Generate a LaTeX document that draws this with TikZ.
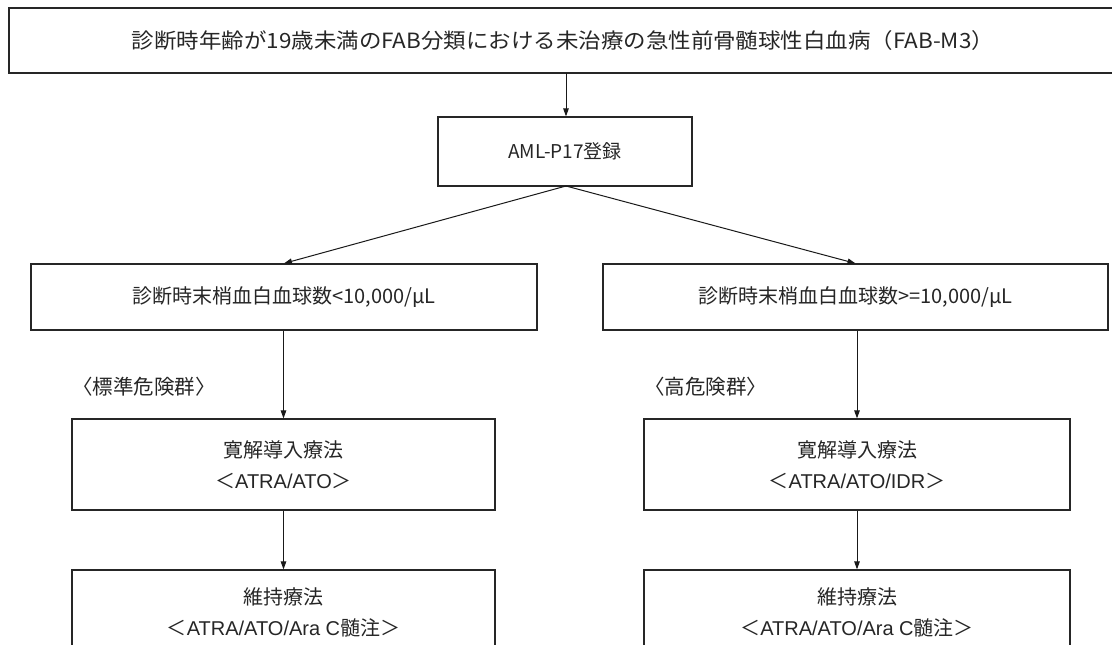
\documentclass[tikz,border=0pt]{standalone}
\usepackage{fontspec}
\setmainfont{Noto Sans CJK JP}
\newfontfamily\arialf{Liberation Sans}
\usetikzlibrary{arrows.meta}
\tikzset{
  box/.style={draw=black!85, line width=1.2pt, inner sep=0pt, align=center, text=black!85},
  conn/.style={draw=black!90, line width=1pt, -{Triangle[length=8pt,width=5.5pt]}},
  grp/.style={inner sep=0pt, anchor=west, text=black!85, font=\fontsize{20.5}{24}\selectfont},
}
\begin{document}
\begin{tikzpicture}[x=1pt,y=-1pt]
\useasboundingbox (0,0) rectangle (1112,645);
\clip (0,0) rectangle (1112,645);
\fill[white] (0,0) rectangle (1112,645);

\node[box, minimum width=1108pt, minimum height=65pt, font=\fontsize{21}{24}\selectfont] (top) at (563,40.5)
  {\scalebox{1.07}[1]{診断時年齢が19歳未満のFAB分類における未治療の急性前骨髄球性白血病（FAB-M3）}};

\node[box, minimum width=254pt, minimum height=69pt, font=\fontsize{19}{22}\selectfont] (aml) at (565,151.5) {AML-P17登録};

\node[box, minimum width=506pt, minimum height=66pt, font=\fontsize{20}{24}\selectfont] (wl) at (284,297) {診断時末梢血白血球数<10,000/μL};
\node[box, minimum width=505pt, minimum height=66pt, font=\fontsize{20}{24}\selectfont] (wr) at (855.5,297) {診断時末梢血白血球数>=10,000/μL};

\node[grp] (gl) at (72,387) {〈標準危険群〉};
\node[grp] (gr) at (644,387) {〈高危険群〉};

\node[box, minimum width=423pt, minimum height=91pt, font=\fontsize{20}{31}\selectfont] (il) at (283.5,464.5)
  {寛解導入療法\\＜{\arialf ATRA/ATO}＞};
\node[box, minimum width=426pt, minimum height=91pt, font=\fontsize{20}{31}\selectfont] (ir) at (857,464.5)
  {寛解導入療法\\＜{\arialf ATRA/ATO/IDR}＞};

\node[box, minimum width=423pt, minimum height=84pt, font=\fontsize{20}{31}\selectfont] (ml) at (283.5,612)
  {維持療法\\＜{\arialf ATRA/ATO/Ara C}髄注＞};
\node[box, minimum width=426pt, minimum height=84pt, font=\fontsize{20}{31}\selectfont] (mr) at (857,612)
  {維持療法\\＜{\arialf ATRA/ATO/Ara C}髄注＞};

\coordinate (ts) at (566,73);
\coordinate (as) at (566,186);
\draw[conn] (ts) -- (aml.north -| ts);
\draw[conn] (as) -- (wl.north);
\draw[conn] (as) -- (wr.north);
\draw[conn] (wl.south -| il.north) -- (il.north);
\draw[conn] (wr.south -| ir.north) -- (ir.north);
\draw[conn] (il.south) -- (ml.north);
\draw[conn] (ir.south) -- (mr.north);
\end{tikzpicture}
\end{document}
